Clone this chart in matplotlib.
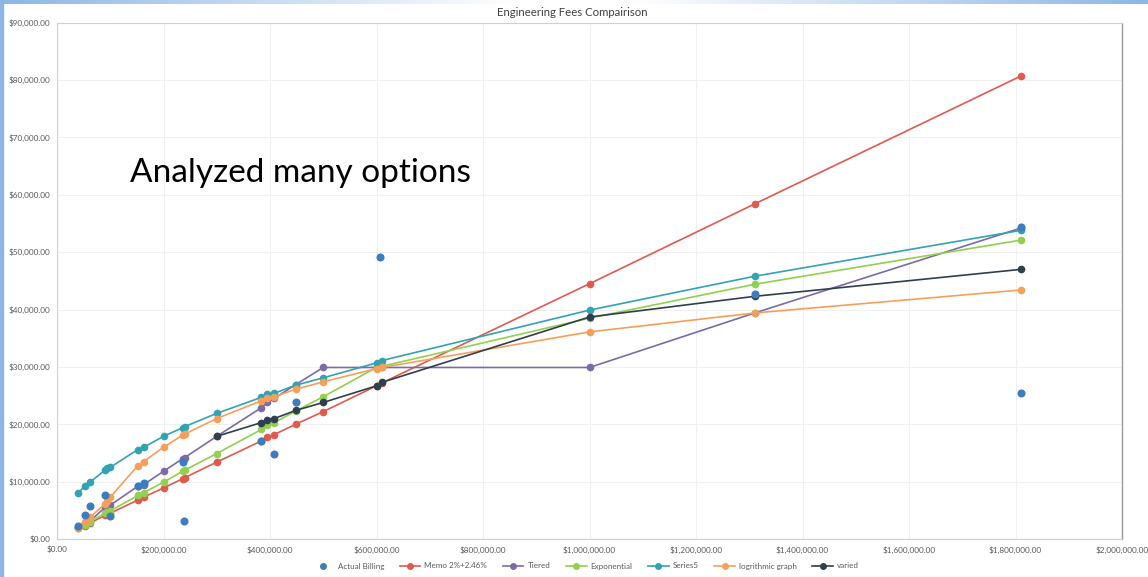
import numpy as np
import matplotlib
matplotlib.use("Agg")
import matplotlib.pyplot as plt
from matplotlib.lines import Line2D

# ---------------- data ----------------
xs = [40000, 52000, 62000, 90000, 94000, 100000, 152000, 163000, 200000, 236000, 240000,
      300000, 384000, 395000, 408000, 448000, 500000, 600000, 610000, 1000000, 1310000, 1810000]

memo = [1900, 2300, 2800, 4100, 4300, 4500, 6800, 7300, 8900, 10500, 10700,
        13400, 17100, 17700, 18200, 20000, 22200, 26700, 27200, 44500, 58400, 80700]
tiered = [2100, 2800, 3100, 5500, 5700, 5900, 9200, 9500, 11800, 14000, 14200,
          17900, 22900, 23800, 24500, 26900, 29900, 29900, 29900, 29900, 39400, 54200]
expo = [1900, 2500, 3000, 4500, 4700, 4900, 7600, 8100, 9900, 11800, 12000,
        14900, 19100, 19800, 20300, 22300, 24800, 29900, 30100, 38500, 44400, 52100]
series5 = [8000, 9200, 9900, 12000, 12300, 12500, 15600, 16000, 17900, 19400, 19600,
           21900, 24700, 25200, 25400, 26800, 28100, 30700, 31100, 39900, 45800, 53800]
loggraph = [1900, 3000, 3800, 6100, 6600, 7300, 12800, 13500, 16000, 18100, 18300,
            21000, 24100, 24600, 24800, 26100, 27400, 29700, 29900, 36100, 39400, 43400]

varied_x = [300000, 384000, 395000, 408000, 448000, 500000, 600000, 610000, 1000000, 1310000, 1810000]
varied = [17900, 20300, 20800, 21000, 22400, 23800, 26700, 27300, 38700, 42300, 47000]

actual_x = [40000, 52000, 62000, 90000, 100000, 152000, 163000, 236000, 238000,
            384000, 408000, 448000, 606000, 1310000, 1810000, 1810000]
actual_y = [2250, 4200, 5700, 7600, 4000, 9200, 9700, 13500, 3100,
            17000, 14900, 23800, 49200, 42700, 25500, 54300]

x_ticks = list(range(0, 2000001, 200000))
y_ticks = list(range(0, 90001, 10000))

title = "Engineering Fees Compairison"
overlay = "Analyzed many options"

# ---------------- style ----------------
c_actual = "#3b7dbf"
c_memo = "#e05a4e"
c_tiered = "#7d6aa8"
c_expo = "#92d050"
c_s5 = "#31a3b3"
c_log = "#f5a05a"
c_varied = "#2f3f4e"

plt.rcParams['font.family'] = ['Lato', 'DejaVu Sans']

fig = plt.figure(figsize=(11.48, 5.77), dpi=100)
fig.patch.set_facecolor("white")

# slide frame: top gradient strip + left blue edge
grad_ax = fig.add_axes([0, 1 - 4 / 577, 1, 4 / 577])
g = np.abs(np.linspace(-1, 1, 512))
g = np.clip((g - 0.1) / 0.9, 0, 1)
base = np.array([0x8d, 0xb6, 0xe6]) / 255.0
img = (1 - g[:, None]) * np.array([1, 1, 1]) + g[:, None] * base
grad_ax.imshow(img[None, :, :], aspect="auto", extent=[0, 1, 0, 1])
grad_ax.axis("off")
fig.add_artist(plt.Rectangle((0, 0), 3 / 1148, 1, transform=fig.transFigure,
                             color="#8db6e6", zorder=5))

ax = fig.add_axes([57 / 1148, 1 - 539 / 577, 1065 / 1148, 516.3 / 577])
ax.set_xlim(0, 2000000)
ax.set_ylim(0, 90000)

ax.set_xticks(x_ticks)
ax.set_yticks(y_ticks)
ax.set_xticklabels(["${:,.2f}".format(v) for v in x_ticks])
ax.set_yticklabels(["${:,.2f}".format(v) for v in y_ticks])
ax.tick_params(axis="both", length=0, labelsize=5.9, colors="#595959", pad=5)
ax.grid(True, color="#f0f0f0", linewidth=0.8)
ax.set_axisbelow(True)
for s in ["left", "bottom", "top"]:
    ax.spines[s].set_color("#d0d0d0")
    ax.spines[s].set_linewidth(0.8)
ax.spines["right"].set_color("#9a9a9a")
ax.spines["right"].set_linewidth(1.0)

lw = 1.2
ms = 4.5
ax.plot(xs, memo, color=c_memo, lw=lw, marker="o", ms=ms, label="Memo 2%+2.46%", zorder=3)
ax.plot(xs, tiered, color=c_tiered, lw=lw, marker="o", ms=ms, label="Tiered", zorder=3)
ax.plot(xs, expo, color=c_expo, lw=lw, marker="o", ms=ms, label="Exponential", zorder=3)
ax.plot(xs, series5, color=c_s5, lw=lw, marker="o", ms=ms, label="Series5", zorder=3)
ax.plot(xs, loggraph, color=c_log, lw=lw, marker="o", ms=ms, label="logrithmic graph", zorder=3)
ax.plot(varied_x, varied, color=c_varied, lw=lw, marker="o", ms=ms, label="varied", zorder=3)
ax.plot(actual_x, actual_y, linestyle="none", color=c_actual, marker="o", ms=ms + 0.3,
        label="Actual Billing", zorder=4)

handles = [
    Line2D([], [], linestyle="none", marker="o", color=c_actual, ms=4),
    Line2D([], [], color=c_memo, lw=lw, marker="o", ms=4),
    Line2D([], [], color=c_tiered, lw=lw, marker="o", ms=4),
    Line2D([], [], color=c_expo, lw=lw, marker="o", ms=4),
    Line2D([], [], color=c_s5, lw=lw, marker="o", ms=4),
    Line2D([], [], color=c_log, lw=lw, marker="o", ms=4),
    Line2D([], [], color=c_varied, lw=lw, marker="o", ms=4),
]
labels = ["Actual Billing", "Memo 2%+2.46%", "Tiered", "Exponential", "Series5",
          "logrithmic graph", "varied"]
leg = fig.legend(handles, labels, loc="center", bbox_to_anchor=(586 / 1148, 1 - 566 / 577),
                 ncol=7, frameon=False, fontsize=5.8, handlelength=2.6, columnspacing=1.9,
                 handletextpad=0.5)
for t in leg.get_texts():
    t.set_color("#595959")

fig.text(572 / 1148, 1 - 12 / 577, title, ha="center", va="center", fontsize=8.2,
         color="#404040")
fig.text(130 / 1148, 1 - 173 / 577, overlay, ha="left", va="center", fontsize=24,
         color="#000000")

fig.savefig("out.png", dpi=100)
